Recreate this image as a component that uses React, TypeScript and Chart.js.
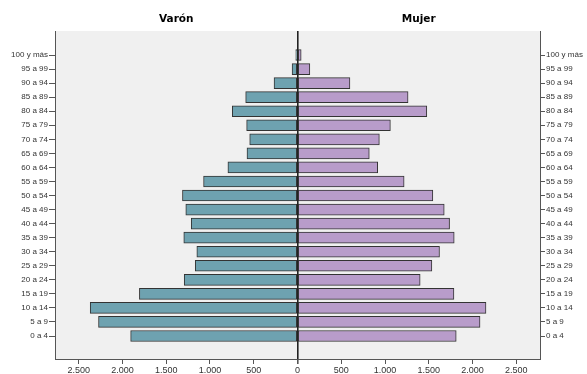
import React, { useEffect, useRef } from "react";
import { Chart, registerables } from "chart.js";

Chart.register(...registerables);

const categories = [
  "0 a 4", "5 a 9", "10 a 14", "15 a 19", "20 a 24", "25 a 29", "30 a 34",
  "35 a 39", "40 a 44", "45 a 49", "50 a 54", "55 a 59", "60 a 64", "65 a 69",
  "70 a 74", "75 a 79", "80 a 84", "85 a 89", "90 a 94", "95 a 99", "100 y más",
];
const maleValues = [1906, 2273, 2368, 1806, 1294, 1168, 1150, 1299, 1214, 1276, 1314, 1073, 795, 577, 546, 581, 745, 592, 268, 62, 20];
const femaleValues = [1813, 2085, 2153, 1787, 1401, 1535, 1622, 1790, 1737, 1676, 1546, 1218, 916, 820, 935, 1061, 1477, 1263, 599, 141, 42];
const xTickValues = [-2500, -2000, -1500, -1000, -500, 0, 500, 1000, 1500, 2000, 2500];
const panelTitles = ["Varón", "Mujer"];

const fmt = (v: number) => {
  const a = Math.abs(Math.round(v));
  return a.toString().replace(/\B(?=(\d{3})+(?!\d))/g, ".");
};

export default function App() {
  const ref = useRef<HTMLCanvasElement | null>(null);
  useEffect(() => {
    document.body.style.margin = "0";
    const ctx = ref.current!;
    const bgPlugin = {
      id: "bg",
      beforeDraw(chart: any) {
        const c = chart.ctx;
        const a = chart.chartArea;
        c.save();
        c.fillStyle = "#ffffff";
        c.fillRect(0, 0, chart.width, chart.height);
        c.fillStyle = "#f0f0f0";
        c.fillRect(a.left, a.top, a.right - a.left, a.bottom - a.top);
        c.restore();
      },
      afterDraw(chart: any) {
        const c = chart.ctx;
        const a = chart.chartArea;
        const zx = chart.scales.x.getPixelForValue(0);
        c.save();
        c.fillStyle = "#000";
        c.font = "bold 10.5px 'DejaVu Sans'";
        c.textAlign = "center";
        c.textBaseline = "middle";
        c.fillText(panelTitles[0], (a.left + zx) / 2, 19);
        c.fillText(panelTitles[1], (zx + a.right) / 2, 19);
        c.restore();
      },
    };
    const yTicks = categories.map((_, i) => ({ value: i }));
    const tickFont = { family: "'Liberation Sans', Arial", size: 8 };
    const chart = new Chart(ctx, {
      type: "bar",
      data: {
        datasets: [
          {
            label: "Varón",
            data: maleValues.map((v, i) => ({ x: -v, y: i })),
            backgroundColor: "#6ea2b0",
            borderColor: "#333333",
            borderWidth: 1,
            borderSkipped: false,
            barThickness: 11,
            grouped: false,
          } as any,
          {
            label: "Mujer",
            data: femaleValues.map((v, i) => ({ x: v, y: i })),
            backgroundColor: "#b89cca",
            borderColor: "#333333",
            borderWidth: 1,
            borderSkipped: false,
            barThickness: 11,
            grouped: false,
          } as any,
        ],
      },
      options: {
        indexAxis: "y",
        responsive: false,
        animation: false,
        layout: { padding: { top: 31, left: 0, right: 0, bottom: 0 } },
        plugins: { legend: { display: false }, tooltip: { enabled: false } },
        scales: {
          x: {
            type: "linear",
            min: -2770,
            max: 2770,
            afterBuildTicks: (s: any) => {
              s.ticks = xTickValues.map((v) => ({ value: v }));
            },
            afterFit: (s: any) => {
              s.height = 15;
            },
            border: { display: true, color: "#555555", width: 1 },
            grid: {
              offset: false,
              drawOnChartArea: true,
              drawTicks: true,
              tickLength: 5,
              tickColor: "#555555",
              color: (c: any) => (c.tick && c.tick.value === 0 ? "#222222" : "rgba(0,0,0,0)"),
              lineWidth: (c: any) => (c.tick && c.tick.value === 0 ? 1.6 : 1),
            },
            ticks: {
              autoSkip: false,
              maxRotation: 0,
              padding: 1,
              color: "#333333",
              font: { family: "'Liberation Sans', Arial", size: 9 },
              callback: (v: any) => fmt(Number(v)),
            },
          },
          y: {
            type: "linear",
            position: "left",
            offset: false,
            min: -1.637,
            max: 21.71,
            afterBuildTicks: (s: any) => {
              s.ticks = yTicks.map((t) => ({ ...t }));
            },
            afterFit: (s: any) => {
              s.width = 55;
            },
            border: { display: true, color: "#555555", width: 1 },
            grid: { offset: false, drawOnChartArea: false, drawTicks: true, tickLength: 6, tickColor: "#555555" },
            ticks: {
              autoSkip: false,
              padding: 1,
              color: "#333333",
              font: tickFont,
              callback: (v: any) => categories[Math.round(Number(v))] ?? "",
            },
          },
          y2: {
            type: "linear",
            position: "right",
            offset: false,
            min: -1.637,
            max: 21.71,
            afterBuildTicks: (s: any) => {
              s.ticks = yTicks.map((t) => ({ ...t }));
            },
            afterFit: (s: any) => {
              s.width = 47;
            },
            border: { display: true, color: "#555555", width: 1 },
            grid: { offset: false, drawOnChartArea: false, drawTicks: true, tickLength: 5, tickColor: "#555555" },
            ticks: {
              autoSkip: false,
              padding: 1,
              color: "#333333",
              font: tickFont,
              callback: (v: any) => categories[Math.round(Number(v))] ?? "",
            },
          },
        },
      } as any,
      plugins: [bgPlugin],
    });
    return () => chart.destroy();
  }, []);
  return (
    <div style={{ position: "absolute", left: 0, top: 0, width: 587, height: 374 }}>
      <canvas ref={ref} width={587} height={374} style={{ width: 587, height: 374 }} />
    </div>
  );
}
